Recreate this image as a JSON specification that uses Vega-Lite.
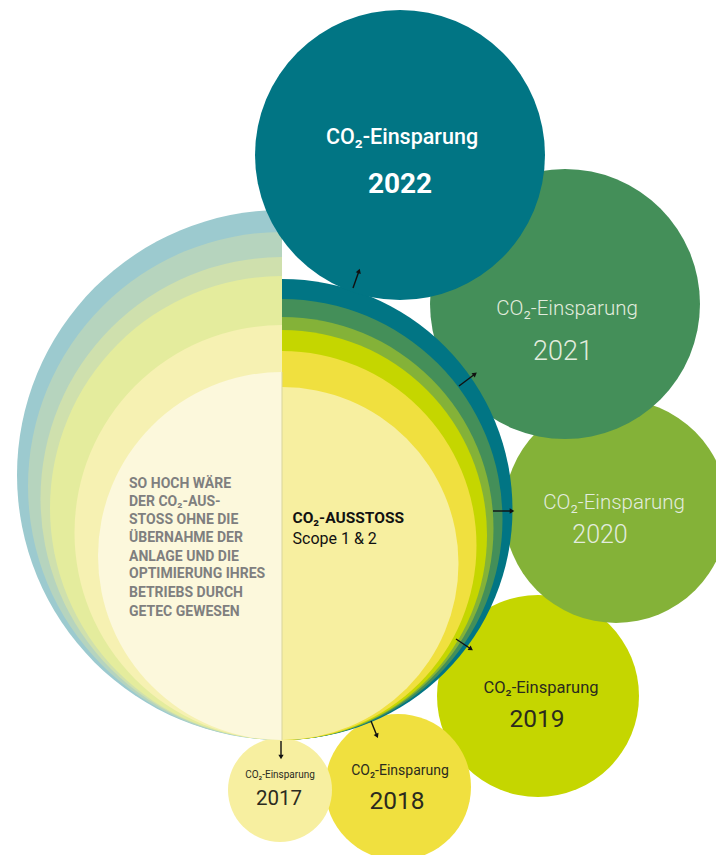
{
  "$schema": "https://vega.github.io/schema/vega-lite/v6.json",
  "width": 716,
  "height": 855,
  "padding": 0,
  "autosize": {"type": "none"},
  "background": "white",
  "config": {"view": {"stroke": null}},
  "datasets": {
    "circles": [
      {"grp": "back", "key": "2019", "x": 538, "y": 696, "r": 101},
      {"grp": "back", "key": "2018", "x": 398, "y": 787, "r": 73},
      {"grp": "back", "key": "2017", "x": 280, "y": 790, "r": 52},
      {"grp": "back", "key": "2020", "x": 616, "y": 511, "r": 112},
      {"grp": "back", "key": "2021", "x": 565, "y": 304, "r": 135},
      {"grp": "left", "key": "ohne 2022", "x": 282, "y": 475, "r": 265},
      {"grp": "left", "key": "ohne 2021", "x": 282, "y": 486, "r": 254},
      {"grp": "left", "key": "ohne 2020", "x": 282, "y": 498.5, "r": 241.5},
      {"grp": "left", "key": "ohne 2019", "x": 282, "y": 508, "r": 232},
      {"grp": "left", "key": "ohne 2018", "x": 282, "y": 532.5, "r": 207.5},
      {"grp": "left", "key": "ohne 2017", "x": 282, "y": 556, "r": 184},
      {"grp": "right", "key": "2022", "x": 282, "y": 509.5, "r": 230.5},
      {"grp": "right", "key": "2021", "x": 282, "y": 519.5, "r": 220.5},
      {"grp": "right", "key": "2020", "x": 282, "y": 528.5, "r": 211.5},
      {"grp": "right", "key": "2019", "x": 282, "y": 535, "r": 205},
      {"grp": "right", "key": "2018", "x": 282, "y": 545.5, "r": 194.5},
      {"grp": "right", "key": "2017", "x": 282, "y": 563.5, "r": 176.5},
      {"grp": "front", "key": "2022", "x": 400, "y": 155, "r": 145}
    ],
    "divider": [
      {"x": 282, "y": 372, "y2": 740}
    ],
    "arrows": [
      {"key": "2022", "x": 353, "y": 288, "x2": 359, "y2": 271, "angle": 18.4},
      {"key": "2021", "x": 459, "y": 386, "x2": 475, "y2": 374, "angle": 52.6},
      {"key": "2020", "x": 493, "y": 511, "x2": 512, "y2": 511, "angle": 90},
      {"key": "2019", "x": 456, "y": 639, "x2": 471, "y2": 649, "angle": 124.5},
      {"key": "2018", "x": 371, "y": 721, "x2": 377, "y2": 736, "angle": 156.4},
      {"key": "2017", "x": 281, "y": 741, "x2": 281, "y2": 757, "angle": 180}
    ],
    "texts": [
      {"role": "L22", "text": "CO₂-Einsparung", "x": 402, "y": 144},
      {"role": "Y22", "text": "2022", "x": 400, "y": 193},
      {"role": "Lg", "text": "CO₂-Einsparung", "x": 567, "y": 315},
      {"role": "Lg", "text": "CO₂-Einsparung", "x": 614, "y": 509},
      {"role": "Y21", "text": "2021", "x": 563, "y": 360},
      {"role": "Y20", "text": "2020", "x": 600, "y": 543},
      {"role": "L19", "text": "CO₂-Einsparung", "x": 541, "y": 693},
      {"role": "Y19", "text": "2019", "x": 537, "y": 727},
      {"role": "L18", "text": "CO₂-Einsparung", "x": 400, "y": 775},
      {"role": "Y18", "text": "2018", "x": 397, "y": 809},
      {"role": "L17", "text": "CO₂-Einsparung", "x": 280, "y": 778},
      {"role": "Y17", "text": "2017", "x": 279, "y": 805},
      {"role": "C1", "text": "CO₂-AUSSTOSS", "x": 292.5, "y": 523},
      {"role": "C2", "text": "Scope 1 & 2", "x": 292.5, "y": 543.5},
      {"role": "G", "text": "SO HOCH WÄRE", "x": 129, "y": 488.3},
      {"role": "G", "text": "DER CO₂-AUS-", "x": 129, "y": 506},
      {"role": "G", "text": "STOSS OHNE DIE", "x": 129, "y": 524},
      {"role": "G", "text": "ÜBERNAHME DER", "x": 129, "y": 542.3},
      {"role": "G", "text": "ANLAGE UND DIE", "x": 129, "y": 560.7},
      {"role": "G", "text": "OPTIMIERUNG IHRES", "x": 129, "y": 578.3},
      {"role": "G", "text": "BETRIEBS DURCH", "x": 129, "y": 597.3},
      {"role": "G", "text": "GETEC GEWESEN", "x": 129, "y": 615.7}
    ]
  },
  "encoding": {
    "x": {"field": "x", "type": "quantitative", "scale": {"domain": [0, 716], "nice": false, "zero": false}, "axis": null},
    "y": {"field": "y", "type": "quantitative", "scale": {"domain": [0, 855], "nice": false, "zero": false, "reverse": true}, "axis": null}
  },
  "layer": [
    {
      "data": {"name": "circles"},
      "transform": [{"filter": "datum.grp === 'back'"}],
      "mark": {"type": "arc", "theta": 0, "theta2": 6.2832},
      "encoding": {
        "radius": {"field": "r", "type": "quantitative", "stack": null, "scale": {"type": "linear", "domain": [0, 716], "range": [0, 716], "zero": true}},
        "color": {"field": "key", "type": "nominal", "legend": null,
          "scale": {"domain": ["2022", "2021", "2020", "2019", "2018", "2017", "ohne 2022", "ohne 2021", "ohne 2020", "ohne 2019", "ohne 2018", "ohne 2017"],
                    "range": ["#017584", "#448f59", "#84b238", "#c5d600", "#f0e03f", "#f7efa0", "#9ccacf", "#b6d4be", "#cfe0ad", "#e4ec9d", "#f6f1b2", "#fcf8dc"]}}
      }
    },
    {
      "data": {"name": "circles"},
      "transform": [{"filter": "datum.grp === 'left'"}],
      "mark": {"type": "arc", "theta": 3.14159265, "theta2": 6.2831853},
      "encoding": {
        "radius": {"field": "r", "type": "quantitative", "stack": null, "scale": {"type": "linear", "domain": [0, 716], "range": [0, 716], "zero": true}},
        "color": {"field": "key", "type": "nominal", "legend": null}
      }
    },
    {
      "data": {"name": "circles"},
      "transform": [{"filter": "datum.grp === 'right'"}],
      "mark": {"type": "arc", "theta": 0, "theta2": 3.14159265},
      "encoding": {
        "radius": {"field": "r", "type": "quantitative", "stack": null, "scale": {"type": "linear", "domain": [0, 716], "range": [0, 716], "zero": true}},
        "color": {"field": "key", "type": "nominal", "legend": null}
      }
    },
    {
      "data": {"name": "circles"},
      "transform": [{"filter": "datum.grp === 'front'"}],
      "mark": {"type": "arc", "theta": 0, "theta2": 6.2832},
      "encoding": {
        "radius": {"field": "r", "type": "quantitative", "stack": null, "scale": {"type": "linear", "domain": [0, 716], "range": [0, 716], "zero": true}},
        "color": {"field": "key", "type": "nominal", "legend": null}
      }
    },
    {
      "data": {"name": "divider"},
      "mark": {"type": "rule", "color": "#d9d59c", "strokeWidth": 1},
      "encoding": {"y2": {"field": "y2"}}
    },
    {
      "data": {"name": "arrows"},
      "mark": {"type": "rule", "color": "#111111", "strokeWidth": 1.4},
      "encoding": {"x2": {"field": "x2"}, "y2": {"field": "y2"}}
    },
    {
      "data": {"name": "arrows"},
      "mark": {"type": "point", "shape": "triangle-up", "filled": true, "color": "#111111", "opacity": 1, "size": 28},
      "encoding": {
        "x": {"field": "x2", "type": "quantitative", "scale": {"domain": [0, 716], "nice": false, "zero": false}, "axis": null},
        "y": {"field": "y2", "type": "quantitative", "scale": {"domain": [0, 855], "nice": false, "zero": false, "reverse": true}, "axis": null},
        "angle": {"field": "angle", "type": "quantitative", "scale": {"domain": [0, 360], "range": [0, 360]}}
      }
    },
    {
      "data": {"name": "texts"},
      "transform": [{"filter": "datum.role === 'L22'"}],
      "mark": {"type": "text", "font": "Roboto", "fontSize": 21.5, "fontWeight": 500, "color": "#ffffff", "align": "center", "baseline": "alphabetic"},
      "encoding": {"text": {"field": "text"}}
    },
    {
      "data": {"name": "texts"},
      "transform": [{"filter": "datum.role === 'Y22'"}],
      "mark": {"type": "text", "font": "Roboto", "fontSize": 28, "fontWeight": 700, "color": "#ffffff", "align": "center", "baseline": "alphabetic"},
      "encoding": {"text": {"field": "text"}}
    },
    {
      "data": {"name": "texts"},
      "transform": [{"filter": "datum.role === 'Lg'"}],
      "mark": {"type": "text", "font": "Roboto", "fontSize": 20.5, "fontWeight": 300, "color": "#e2ecde", "align": "center", "baseline": "alphabetic"},
      "encoding": {"text": {"field": "text"}}
    },
    {
      "data": {"name": "texts"},
      "transform": [{"filter": "datum.role === 'Y21'"}],
      "mark": {"type": "text", "font": "Roboto", "fontSize": 27, "fontWeight": 300, "color": "#e2ecde", "align": "center", "baseline": "alphabetic"},
      "encoding": {"text": {"field": "text"}}
    },
    {
      "data": {"name": "texts"},
      "transform": [{"filter": "datum.role === 'Y20'"}],
      "mark": {"type": "text", "font": "Roboto", "fontSize": 25, "fontWeight": 300, "color": "#e2ecde", "align": "center", "baseline": "alphabetic"},
      "encoding": {"text": {"field": "text"}}
    },
    {
      "data": {"name": "texts"},
      "transform": [{"filter": "datum.role === 'L19'"}],
      "mark": {"type": "text", "font": "Roboto", "fontSize": 16.5, "fontWeight": 400, "color": "#2b2b1e", "align": "center", "baseline": "alphabetic"},
      "encoding": {"text": {"field": "text"}}
    },
    {
      "data": {"name": "texts"},
      "transform": [{"filter": "datum.role === 'Y19' || datum.role === 'Y18'"}],
      "mark": {"type": "text", "font": "Roboto", "fontSize": 24.5, "fontWeight": 400, "color": "#2b2b1e", "align": "center", "baseline": "alphabetic"},
      "encoding": {"text": {"field": "text"}}
    },
    {
      "data": {"name": "texts"},
      "transform": [{"filter": "datum.role === 'L18'"}],
      "mark": {"type": "text", "font": "Roboto", "fontSize": 14, "fontWeight": 400, "color": "#2b2b1e", "align": "center", "baseline": "alphabetic"},
      "encoding": {"text": {"field": "text"}}
    },
    {
      "data": {"name": "texts"},
      "transform": [{"filter": "datum.role === 'L17'"}],
      "mark": {"type": "text", "font": "Roboto", "fontSize": 10, "fontWeight": 400, "color": "#2b2b1e", "align": "center", "baseline": "alphabetic"},
      "encoding": {"text": {"field": "text"}}
    },
    {
      "data": {"name": "texts"},
      "transform": [{"filter": "datum.role === 'Y17'"}],
      "mark": {"type": "text", "font": "Roboto", "fontSize": 20.5, "fontWeight": 400, "color": "#2b2b1e", "align": "center", "baseline": "alphabetic"},
      "encoding": {"text": {"field": "text"}}
    },
    {
      "data": {"name": "texts"},
      "transform": [{"filter": "datum.role === 'C1'"}],
      "mark": {"type": "text", "font": "Roboto", "fontSize": 15.5, "fontWeight": 700, "color": "#111111", "align": "left", "baseline": "alphabetic"},
      "encoding": {"text": {"field": "text"}}
    },
    {
      "data": {"name": "texts"},
      "transform": [{"filter": "datum.role === 'C2'"}],
      "mark": {"type": "text", "font": "Roboto", "fontSize": 16, "fontWeight": 400, "color": "#111111", "align": "left", "baseline": "alphabetic"},
      "encoding": {"text": {"field": "text"}}
    },
    {
      "data": {"name": "texts"},
      "transform": [{"filter": "datum.role === 'G'"}],
      "mark": {"type": "text", "font": "Roboto", "fontSize": 14, "fontWeight": 700, "color": "#7f7f7f", "align": "left", "baseline": "alphabetic"},
      "encoding": {"text": {"field": "text"}}
    }
  ]
}
